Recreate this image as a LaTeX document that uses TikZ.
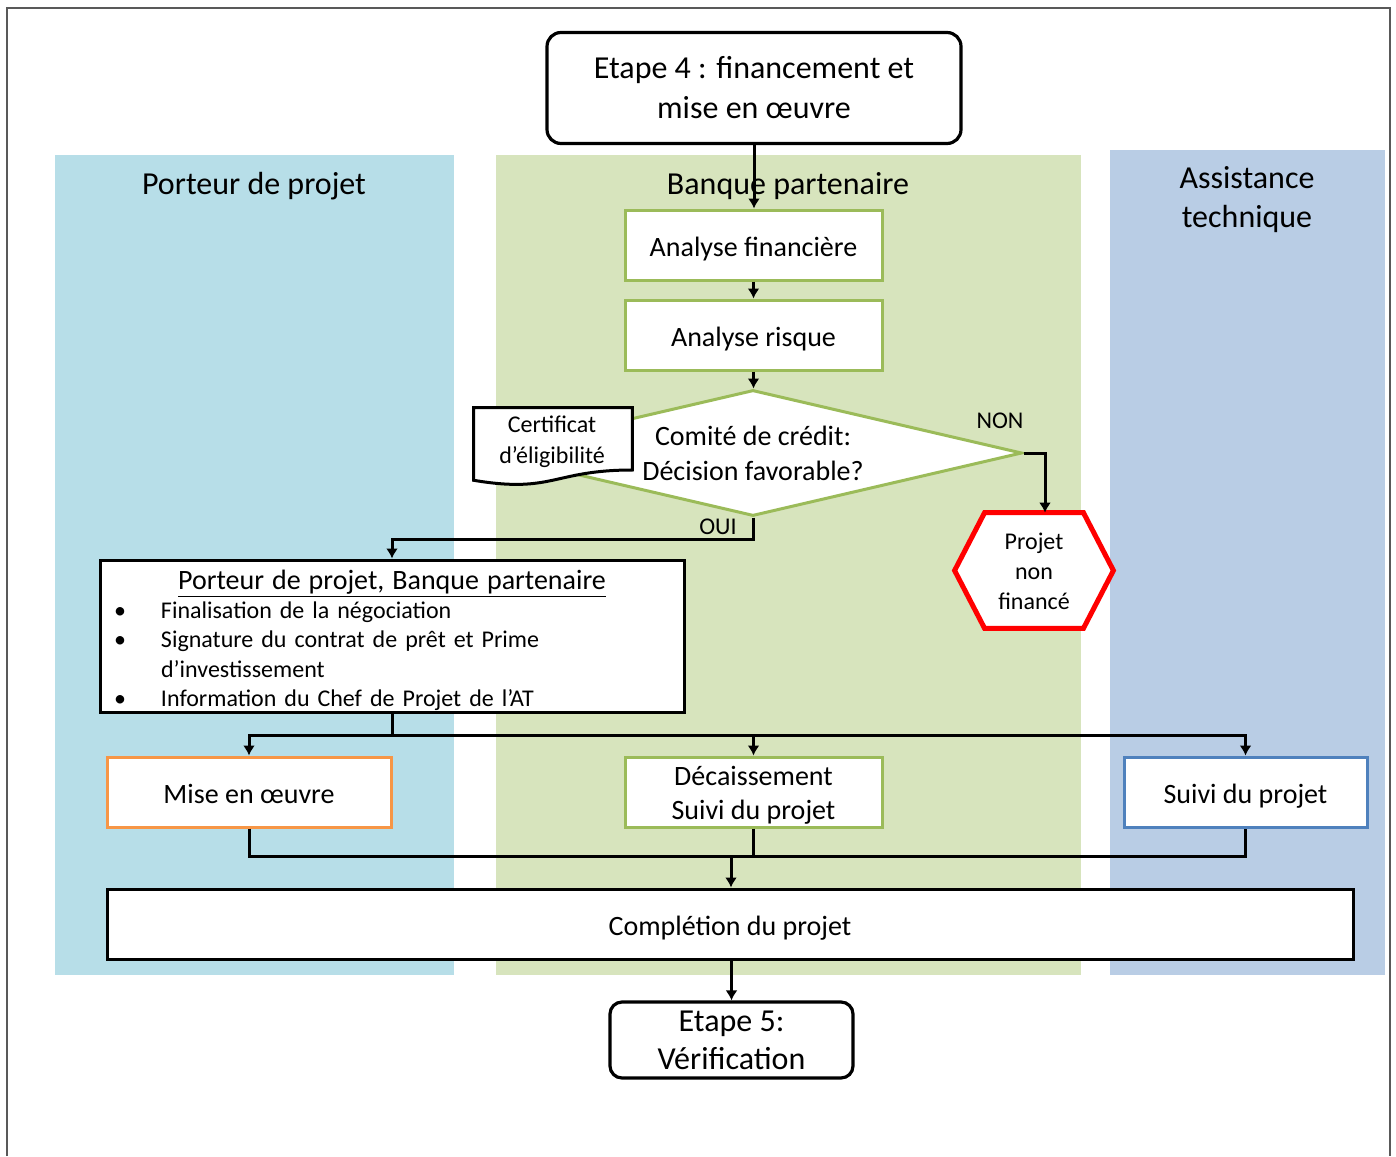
\documentclass[tikz,border=0pt]{standalone}
\usepackage{fontspec}
\setmainfont{Carlito}
\usetikzlibrary{arrows.meta,shapes.geometric,calc}
\definecolor{laneblue}{HTML}{B7DEE8}
\definecolor{lanegreen}{HTML}{D7E4BD}
\definecolor{lanegrey}{HTML}{B9CDE5}
\definecolor{boxgreen}{HTML}{9BBB59}
\definecolor{boxorange}{HTML}{F79646}
\definecolor{boxblue}{HTML}{4F81BD}
\definecolor{framegrey}{HTML}{595959}
\newcommand{\fs}[2]{\fontsize{#1}{#2}\selectfont}
\newcommand{\bulletline}[1]{\par\noindent\makebox[28.5pt][l]{\hspace{5pt}\textbullet}#1}
\newcommand{\contline}[1]{\par\noindent\hspace*{28.5pt}#1}
\begin{document}
\begin{tikzpicture}[x=0.5pt,y=-0.5pt,
  conn/.style={line width=1.5pt,-{Latex[length=5pt,width=6pt]}},
  link/.style={line width=1.5pt},
  stepbox/.style={draw, line width=1.5pt, fill=white, minimum height=35pt, inner sep=0pt, align=center, font=\fs{14}{17}},
  oneline/.style={text height=14.3pt, text depth=2.8pt},
  lanetitle/.style={font=\fs{16}{19.5}, align=center},
  etapebox/.style={draw, line width=1.6pt, rounded corners=7pt, fill=white, align=center, inner sep=0pt},
  smalltext/.style={font=\fs{12}{15}, align=center, inner sep=0pt},
]
\useasboundingbox (0,0) rectangle (1396,1156);

% outer frame
\draw[framegrey, line width=1pt] (7,1156) -- (7,8) -- (1390,8) -- (1390,1156);

% swimlanes
\fill[laneblue] (55,155) rectangle (454,975);
\fill[lanegreen] (496,155) rectangle (1081,975);
\fill[lanegrey] (1110,150) rectangle (1385,975);
\node[lanetitle] (lane1) at (254,186) {Porteur de projet};
\node[lanetitle] (lane2) at (788,186) {Banque partenaire};
\node[lanetitle] (lane3) at (1247,199.5) {Assistance\\technique};

% main steps
\node[etapebox, minimum width=207pt, minimum height=55.5pt, font=\fs{16}{20}] (etape4) at (754,88) {Etape 4 : financement et\\mise en œuvre};
\node[stepbox, oneline, draw=boxgreen, minimum width=128.5pt] (af) at (753.5,245) {Analyse financière};
\node[stepbox, oneline, draw=boxgreen, minimum width=128.5pt] (ar) at (753.5,335) {Analyse risque};
\node[diamond, shape aspect=4.27, draw=boxgreen, line width=1.5pt, fill=white, minimum width=269pt, minimum height=63pt, inner sep=0pt, align=center, font=\fs{14}{17.5}] (dec) at (753,453) {Comité de crédit:\\Décision favorable?};

% document shape
\node[minimum width=79pt, minimum height=38.5pt, inner sep=0pt] (certbox) at (553,446.5) {};
\draw[line width=1.5pt, fill=white, line join=miter]
  (certbox.north west) -- (certbox.north east)
  -- ($(certbox.north east)!0.802!(certbox.south east)$)
  .. controls ($(certbox.north)!0.802!(certbox.south)$) and ($(certbox.north)!1.107!(certbox.south)$) ..
  ($(certbox.north west)!0.934!(certbox.south west)$) -- cycle;
\node[smalltext, font=\fs{12}{15.5}] (cert) at (552,442) {Certificat\\d’éligibilité};

% rejected project
\node[minimum width=79pt, minimum height=57.5pt, inner sep=0pt] (hexbox) at (1034,570.5) {};
\draw[red, line width=2.5pt, fill=white, line join=miter]
  (hexbox.west) -- ([xshift=15pt]hexbox.north west) -- ([xshift=-15pt]hexbox.north east)
  -- (hexbox.east) -- ([xshift=-15pt]hexbox.south east) -- ([xshift=15pt]hexbox.south west) -- cycle;
\node[smalltext] (hex) at (1034,571) {Projet\\non\\financé};

\node[smalltext] (non) at (1000,421) {NON};
\node[smalltext] (oui) at (718,527) {OUI};

% negotiation box
\node[draw, line width=1.5pt, fill=white, minimum width=292pt, minimum height=76pt, text width=288pt, text height=13.5pt, text depth=60.5pt, inner xsep=2pt, inner ysep=1pt, align=left, font=\fs{12}{14.7}] (neg) at (392,636) {%
  \setlength\parindent{0pt}%
  {\centering\fs{14}{15.5}\underline{Porteur de projet, Banque partenaire}\par}%
  \bulletline{Finalisation de la négociation}%
  \bulletline{Signature du contrat de prêt et Prime}%
  \contline{d’investissement}%
  \bulletline{Information du Chef de Projet de l’AT}};

% follow-up steps
\node[stepbox, oneline, draw=boxorange, minimum width=142pt] (mise) at (249,792) {Mise en œuvre};
\node[stepbox, draw=boxgreen, minimum width=128.5pt, text height=11.75pt, text depth=18.25pt] (deca) at (753.5,792) {\begin{tabular}[t]{@{}c@{}}Décaissement\\Suivi du projet\end{tabular}};
\node[stepbox, oneline, draw=boxblue, minimum width=121.5pt] (suivi) at (1245.5,792) {Suivi du projet};
\node[stepbox, oneline, draw=black, minimum width=623pt] (compl) at (730,924) {Complétion du projet};
\node[etapebox, rounded corners=6pt, minimum width=121.5pt, minimum height=38pt, font=\fs{16}{19}] (etape5) at (731.5,1040) {Etape 5:\\Vérification};

% connectors
\draw[conn] (etape4.south) -- (etape4.south |- af.north);
\draw[conn] (af.south) -- (af.south |- ar.north);
\draw[conn] (ar.south) -- (ar.south |- dec.north);
\draw[conn] (dec.east) -| ([xshift=5.5pt]hexbox.north);
\draw[conn] (dec.south) -- ++(0,22) -| (neg.north);

\coordinate (split) at ($(neg.south)+(0,22)$);
\draw[link] (neg.south) -- (split);
\draw[conn] (split) -| (mise.north);
\draw[conn] (split) -| (suivi.north);
\draw[conn] (split -| deca.north) -- (deca.north);

\coordinate (join) at ($(compl.north)+(1,-31)$);
\draw[link] (mise.south) |- (join) -| (suivi.south);
\draw[link] (deca.south) -- (deca.south |- join);
\draw[conn] (join) -- (join |- compl.north);
\draw[conn] (compl.south -| etape5.north) -- (etape5.north);
\end{tikzpicture}
\end{document}
